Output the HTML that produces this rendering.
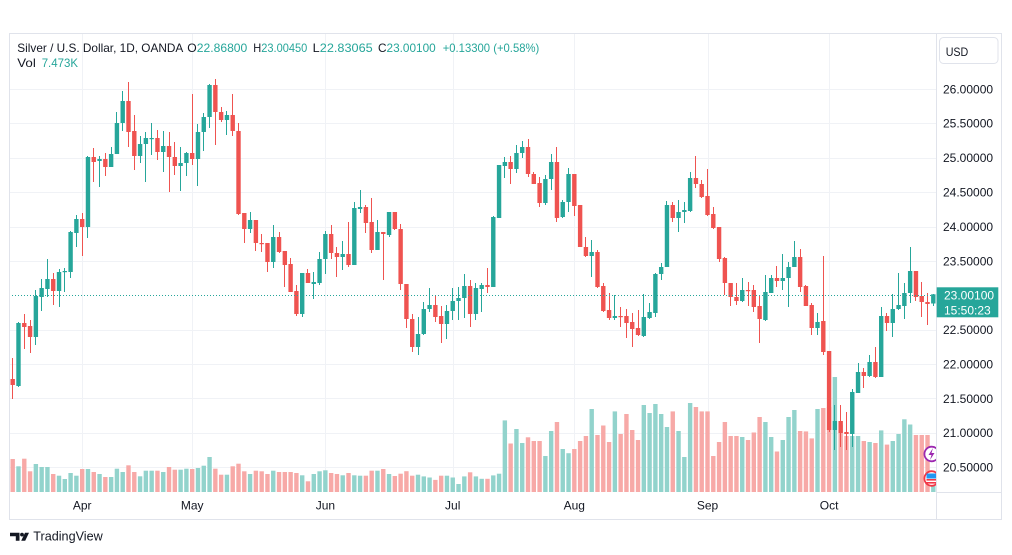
<!DOCTYPE html>
<html>
<head>
<meta charset="utf-8">
<style>
  html,body{margin:0;padding:0;background:#ffffff;}
  body{width:1012px;height:555px;overflow:hidden;position:relative;font-family:"Liberation Sans",Arial,sans-serif;}
  svg{position:absolute;left:0;top:0;}
  .t{font-family:"Liberation Sans",Arial,sans-serif;font-size:12px;fill:#131722;}
  .g{fill:#26a69a;}
</style>
</head>
<body>
<svg id="chart" width="1012" height="555" viewBox="0 0 1012 555" xmlns="http://www.w3.org/2000/svg">
  <defs>
    <clipPath id="plot"><rect x="9" y="34" width="927.5" height="458"/></clipPath>
  </defs>
  <rect x="0" y="0" width="1012" height="555" fill="#ffffff"/>
  <g id="grid" stroke="#f0f2f6" stroke-width="1"></g>
  <g id="vol" clip-path="url(#plot)"></g>
  <g id="cnd" clip-path="url(#plot)"></g>
  <line x1="9" y1="295.5" x2="936" y2="295.5" stroke="#26a69a" stroke-width="1" stroke-dasharray="1,2"/>

  <g clip-path="url(#plot)">
    <circle cx="931.7" cy="454" r="7.3" fill="#ffffff" stroke="#9c27b0" stroke-width="1.8"/>
    <path d="M933 448 L928.5 455 L931.5 455 L930 460 L934.5 453 L931.5 453 Z" fill="#9c27b0"/>
    <circle cx="931.7" cy="478.5" r="7.3" fill="#ffffff" stroke="#f23645" stroke-width="1.8"/>
    <rect x="926.5" y="473.5" width="10" height="5" fill="#2196f3"/>
    <rect x="926.5" y="479" width="10" height="1.6" fill="#f23645"/>
    <rect x="926.5" y="482" width="10" height="1.6" fill="#f23645"/>
  </g>

  <rect x="9.5" y="33.5" width="992" height="486" fill="none" stroke="#e0e3eb" stroke-width="1"/>
  <line x1="936.5" y1="33.5" x2="936.5" y2="519.5" stroke="#e0e3eb" stroke-width="1"/>
  <line x1="936.5" y1="492.5" x2="1001.5" y2="492.5" stroke="#e0e3eb" stroke-width="1"/>

  <rect x="939.5" y="37.5" width="58.5" height="26" rx="4" ry="4" fill="#ffffff" stroke="#e0e3eb" stroke-width="1"/>
  <text x="945.7" y="56" class="t" textLength="22.6" lengthAdjust="spacingAndGlyphs">USD</text>

  <g class="t">
    <text x="943" y="93.3">26.00000</text>
    <text x="943" y="127.7">25.50000</text>
    <text x="943" y="162.1">25.00000</text>
    <text x="943" y="196.5">24.50000</text>
    <text x="943" y="230.9">24.00000</text>
    <text x="943" y="265.3">23.50000</text>
    <text x="943" y="334.1">22.50000</text>
    <text x="943" y="368.5">22.00000</text>
    <text x="943" y="402.8">21.50000</text>
    <text x="943" y="437.2">21.00000</text>
    <text x="943" y="471.6">20.50000</text>
  </g>

  <rect x="936.7" y="287.3" width="61.6" height="30" fill="#26a69a"/>
  <text x="944" y="299.6" style="font-family:'Liberation Sans',Arial,sans-serif;font-size:12px;fill:#ffffff">23.00100</text>
  <text x="944" y="314.4" style="font-family:'Liberation Sans',Arial,sans-serif;font-size:12px;fill:#ffffff">15:50:23</text>

  <g class="t" text-anchor="middle">
    <text x="82.2" y="509.5">Apr</text>
    <text x="192.2" y="509.5">May</text>
    <text x="325.4" y="509.5">Jun</text>
    <text x="452.7" y="509.5">Jul</text>
    <text x="574.3" y="509.5">Aug</text>
    <text x="707.5" y="509.5">Sep</text>
    <text x="829.1" y="509.5">Oct</text>
  </g>

  <text x="17.3" y="52" class="t" textLength="166" lengthAdjust="spacingAndGlyphs">Silver / U.S. Dollar, 1D, OANDA</text>
  <text x="187.3" y="52" class="t" textLength="60" lengthAdjust="spacingAndGlyphs">O<tspan class="g">22.86800</tspan></text>
  <text x="253.3" y="52" class="t" textLength="54" lengthAdjust="spacingAndGlyphs">H<tspan class="g">23.00450</tspan></text>
  <text x="312.7" y="52" class="t" textLength="60" lengthAdjust="spacingAndGlyphs">L<tspan class="g">22.83065</tspan></text>
  <text x="378" y="52" class="t" textLength="57.7" lengthAdjust="spacingAndGlyphs">C<tspan class="g">23.00100</tspan></text>
  <text x="442.7" y="52" class="t g" textLength="96.6" lengthAdjust="spacingAndGlyphs">+0.13300 (+0.58%)</text>
  <text x="17.3" y="67" class="t" textLength="18.5" lengthAdjust="spacingAndGlyphs">Vol</text>
  <text x="41.7" y="67" class="t g" textLength="36.3" lengthAdjust="spacingAndGlyphs">7.473K</text>

  <g fill="#131722">
    <path d="M10 532.7 H19.5 V540.7 H15.8 V536.2 H10 Z"/>
    <circle cx="22" cy="534.6" r="1.9"/>
    <path d="M25 532.7 H29 L25.2 540.7 H21.2 Z"/>
  </g>
  <text x="33.3" y="540.7" style="font-family:'Liberation Sans',Arial,sans-serif;font-size:12.6px;fill:#131722" textLength="69.4" lengthAdjust="spacingAndGlyphs">TradingView</text>
</svg>

<script>
(function(){
var NS="http://www.w3.org/2000/svg";
var D=[
[379,385,358,399],[386,323,322,387],[323,327,314,349],[326,337,320,353],[337,296,290,345],
[297,288,279,311],[289,279,259,297],[279,291,273,305],[291,272,269,307],[272,271,268,292],
[272,232,231,278],[233,219,215,247],[219,227,213,256],[227,157,156,238],[157,162,148,182],
[161,159,156,187],[159,167,153,176],[167,154,147,167],[154,123,112,154],[123,101,91,131],
[101,132,82,147],[131,156,115,170],[156,144,136,163],[144,138,132,182],[139,138,123,155],
[138,152,130,160],[152,146,131,172],[146,157,132,192],[157,166,142,175],[166,163,147,191],
[163,153,152,176],[153,159,94,165],[159,132,124,186],[132,117,113,151],[117,85,84,128],
[85,112,79,145],[112,120,107,122],[120,115,111,135],[115,131,94,136],[131,214,123,215],
[213,229,213,243],[229,220,212,233],[220,243,220,251],[243,244,234,252],[243,262,243,272],
[262,237,225,268],[237,252,232,253],[251,265,251,287],[264,292,258,292],[291,314,285,316],
[314,273,273,317],[273,283,269,283],[284,282,272,299],[283,259,252,285],[259,234,231,274],
[234,253,225,259],[253,257,247,277],[257,254,241,270],[254,265,222,267],[265,208,202,265],
[209,207,190,213],[207,223,205,233],[222,250,198,253],[250,232,220,250],[232,234,232,280],
[235,212,212,237],[212,229,212,230],[229,284,224,290],[284,319,284,328],[319,347,314,352],
[347,334,317,355],[334,309,302,335],[309,305,288,312],[305,317,296,322],[316,324,306,343],
[324,311,305,339],[311,301,288,320],[301,298,287,320],[298,286,274,318],[286,314,280,327],
[314,288,283,320],[289,285,283,312],[285,287,268,293],[287,217,216,287],[218,165,165,218],
[166,162,157,178],[162,169,156,184],[169,153,145,173],[153,147,141,158],[147,174,139,177],
[174,184,172,184],[183,203,177,207],[203,179,175,205],[179,162,154,190],[162,218,147,222],
[217,202,200,218],[202,174,168,212],[174,206,174,216],[205,247,205,247],[247,256,237,257],
[256,252,240,277],[252,287,250,288],[286,311,283,312],[310,318,293,320],[318,316,295,320],
[316,317,307,327],[316,323,309,338],[322,329,313,347],[328,335,310,336],[336,317,294,337],
[318,312,303,319],[313,274,273,317],[274,267,263,280],[267,205,201,267],[205,218,202,222],
[218,212,200,232],[212,210,202,223],[211,178,172,212],[178,184,156,188],[184,197,180,198],
[196,215,169,216],[214,228,207,229],[227,259,227,262],[258,283,257,295],[283,297,283,306],
[297,301,283,305],[301,290,278,302],[290,291,282,306],[290,307,285,312],[306,319,296,343],
[320,292,275,321],[293,278,275,293],[278,281,266,287],[281,278,254,290],[278,267,262,307],
[267,257,241,267],[257,287,249,292],[286,306,285,306],[305,328,303,335],[328,322,313,335],
[321,352,256,355],[351,430,351,432],[430,421,405,450],[421,433,405,447],[432,434,412,450],
[434,392,389,447],[393,372,363,393],[372,376,368,388],[376,362,355,377],[362,377,347,378],
[377,316,307,377],[316,323,313,331],[323,309,294,337],[309,305,273,310],[306,293,283,319],
[293,271,247,303],[271,297,271,301],[296,302,282,317],[302,304,293,325],[303.5,294.3,294,306]
];
var V=[33,25.7,33.3,20.7,28,25,25,18,16.3,13,19,16.3,23,23,20,18,15,15,23.3,20,
26.7,20,15.7,21.3,21.3,21.3,20,25,22.3,22.3,23.3,23,24,26.3,35,23.3,17.3,17.3,25.7,28.3,
20.7,18,21.3,20.7,18,21.3,20,20,20,19,16.7,10.7,18,20.7,21.7,19,18,16.7,19,16.7,
16.3,16.3,21.3,21.3,23,18,16,18.3,20.8,16.3,17.3,15.6,14.5,12.1,16.3,16.3,14.5,8,15.6,19.7,
15.6,13.2,13.2,16.6,18.3,71.6,48.5,63,49,54.7,51,51,36,61,70,43,38.8,43,51,56,
83,57,66.5,50,80.6,58,78,62,52,87,79,88,78,65,80.6,61,35,89,85,80.6,
80.6,36,50,70,56,56,55,52,59.5,75,70,55,40.5,52,75,82,61,60.6,53.6,83,
84,85,115,67,56,56,56,51,50,49,61.6,47.4,51,58,72.7,67.5,57,57,57,20];

function el(tag,attrs,parent){var e=document.createElementNS(NS,tag);for(var k in attrs)e.setAttribute(k,attrs[k]);parent.appendChild(e);return e;}

var grid=document.getElementById('grid');
var gy=[88.9,123.3,157.7,192.1,226.5,260.9,295.3,329.7,364.1,398.4,432.8,467.2];
for(var j=0;j<gy.length;j++){
  if(j===6) continue;
  var yy=Math.round(gy[j])+0.5;
  el('line',{x1:10,y1:yy,x2:936,y2:yy},grid);
}
var gx=[82.2,192.2,325.4,452.7,574.3,707.5,829.1];
for(var j=0;j<gx.length;j++){
  var xx=Math.round(gx[j])+0.5;
  el('line',{x1:xx,y1:34,x2:xx,y2:492},grid);
}

var vol=document.getElementById('vol'), cnd=document.getElementById('cnd');
var UP='#26a69a', DN='#ef5350', VUP='#92d3cc', VDN='#f7a9a7';
for(var i=0;i<D.length;i++){
  var cx=12.7+i*5.79;
  var d=D[i], o=d[0], c=d[1], h=d[2], l=d[3];
  var up=c<=o;
  var vh=V[i]||10;
  el('rect',{x:(cx-2.2).toFixed(2),y:(492-vh).toFixed(2),width:4.4,height:vh.toFixed(2),fill:up?VUP:VDN},vol);
  var wx=(Math.round(cx-0.5)+0.5);
  el('line',{x1:wx,y1:h,x2:wx,y2:l,stroke:up?UP:DN,'stroke-width':1},cnd);
  var top=Math.min(o,c), bh=Math.max(Math.abs(o-c),1.2);
  el('rect',{x:(cx-2.2).toFixed(2),y:top,width:4.4,height:bh,fill:up?UP:DN},cnd);
}
})();
</script>
</body>
</html>
